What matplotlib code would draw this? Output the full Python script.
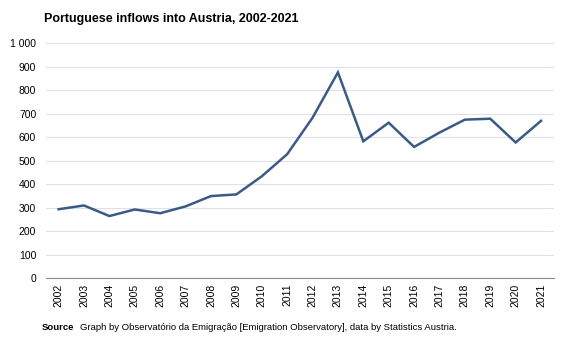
import matplotlib
matplotlib.use("Agg")
import matplotlib.pyplot as plt
from matplotlib.ticker import FuncFormatter

years = [str(y) for y in range(2002, 2022)]
inflows = [293, 309, 264, 292, 276, 305, 349, 356, 433, 527,
           682, 875, 582, 661, 558, 619, 674, 678, 577, 669]
yticks = list(range(0, 1001, 100))

plt.rcParams['font.family'] = ['Liberation Sans', 'DejaVu Sans']

fig = plt.figure(figsize=(5.67, 3.4), dpi=100)
ax = fig.add_axes([0.081, 0.182, 0.8956, 0.6915])

x = list(range(len(years)))
ax.plot(x, inflows, color='#3b5a85', linewidth=1.8, solid_joinstyle='miter')

ax.set_xlim(-0.5, len(years) - 0.5)
ax.set_ylim(0, 1000)
ax.set_yticks(yticks)
ax.yaxis.set_major_formatter(FuncFormatter(lambda v, p: f"{int(v):,}".replace(",", " ")))
ax.set_xticks(x)
ax.set_xticklabels(years, rotation=90)

ax.grid(axis='y', color='#dde1ea', linewidth=0.8)
ax.set_axisbelow(True)
for s in ['top', 'right', 'left']:
    ax.spines[s].set_visible(False)
ax.spines['bottom'].set_color('#8c8c8c')
ax.spines['bottom'].set_linewidth(0.8)
ax.tick_params(axis='both', length=0, labelsize=7.5, colors='black')
ax.tick_params(axis='y', pad=7)
ax.tick_params(axis='x', pad=4)

fig.text(0.078, 0.945, "Portuguese inflows into Austria, 2002-2021",
         fontsize=9.0, fontweight='bold', ha='left', va='center')
fig.text(0.074, 0.038, "Source", fontsize=6.8, fontweight='bold', ha='left', va='center')
fig.text(0.141, 0.038, "Graph by Observatório da Emigração [Emigration Observatory], data by Statistics Austria.",
         fontsize=6.8, ha='left', va='center')

fig.savefig("out.png", dpi=100)
